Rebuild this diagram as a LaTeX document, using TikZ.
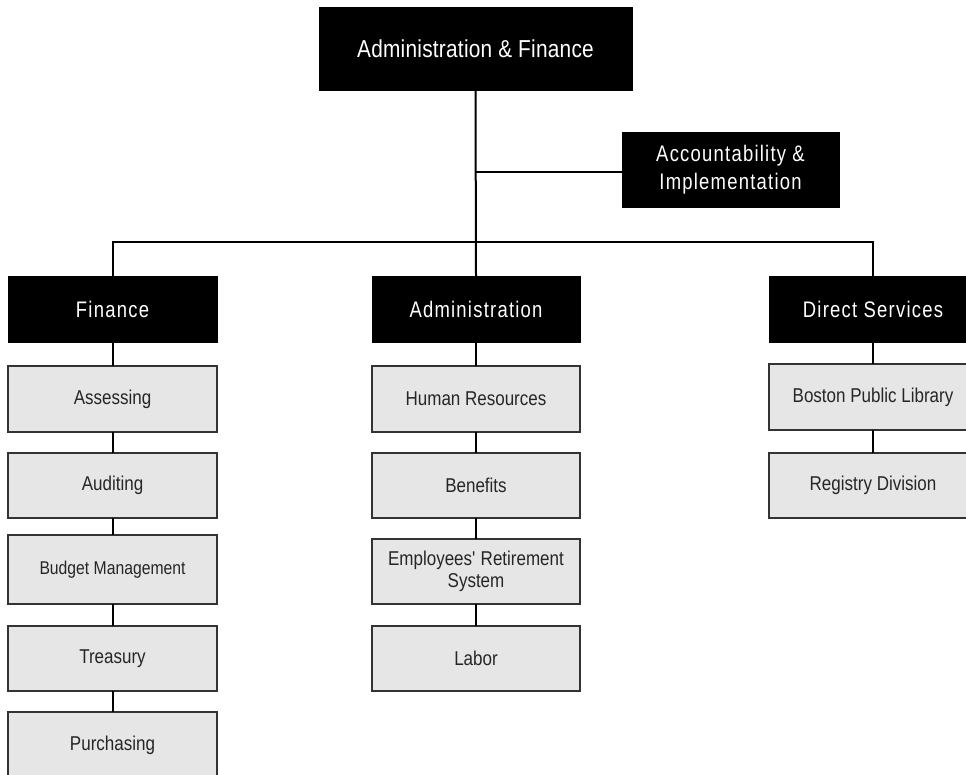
\documentclass[tikz,border=0pt]{standalone}
\usepackage{fontspec}
\setmainfont{Liberation Sans}[FakeStretch=0.85]
\newfontfamily\hdfont{Liberation Sans}[FakeStretch=0.82,LetterSpace=5.5]
\newfontfamily\topfont{Liberation Sans}[FakeStretch=0.85,LetterSpace=1]
\definecolor{subgray}{HTML}{E6E6E6}
\definecolor{edgegray}{HTML}{333333}
\definecolor{txtgray}{HTML}{262626}
\tikzset{
  blk/.style={fill=black, draw=black, line width=0.8pt, text=white, inner sep=0pt, outer sep=0pt,
    align=center, minimum height=66pt, font=\hdfont\fontsize{22.5}{28}\selectfont},
  sub/.style={fill=subgray, draw=edgegray, line width=1.5pt, text=txtgray, inner sep=0pt, outer sep=0pt,
    minimum height=65pt, align=center, font=\fontsize{20}{22.5}\selectfont},
  fincol/.style={sub, minimum width=209pt},
  admcol/.style={sub, minimum width=208pt},
  dscol/.style={sub, minimum width=208pt},
  conn/.style={draw=black, line width=2pt},
}
\begin{document}
\begin{tikzpicture}[x=1pt,y=-1pt]
\useasboundingbox (0,0) rectangle (966,775);
% header boxes
\node[blk, minimum width=313pt, minimum height=83pt, font=\topfont\fontsize{24.5}{28}\selectfont] (top) at (475.5,48.5) {Administration \& Finance};
\node[blk, minimum width=217pt, minimum height=75pt] (acc) at (730.5,169.5) {Accountability \&\\Implementation};
\node[blk, minimum width=209pt] (fin) at (112.5,309) {Finance};
\node[blk, minimum width=208pt] (adm) at (476,309) {Administration};
\node[blk, minimum width=208pt] (ds) at (873,309) {Direct Services};
% finance column
\node[fincol, minimum height=66pt] (ass) at (112.5,399) {Assessing};
\node[fincol] (aud) at (112.5,485.5) {Auditing};
\node[fincol, minimum height=69pt, font=\fontsize{18.5}{21}\selectfont] (bud) at (112.5,569.5) {Budget Management};
\node[fincol] (tre) at (112.5,658.5) {Treasury};
\node[fincol, minimum height=66pt] (pur) at (112.5,745) {Purchasing};
% administration column
\node[admcol, minimum height=66pt] (hr) at (476,399) {Human Resources};
\node[admcol] (ben) at (476,485.5) {Benefits};
\node[admcol] (ers) at (476,571.5) {Employees\textquotesingle{} Retirement\\System};
\node[admcol] (lab) at (476,658.5) {Labor};
% direct services column
\node[dscol, minimum height=66pt] (bpl) at (873,397) {Boston Public Library};
\node[dscol] (reg) at (873,485.5) {Registry Division};
% connectors
\coordinate (bus) at (476,242);
\coordinate (jacc) at (476,172);
\draw[conn] (top.south) -- (adm.north);
\draw[conn] (fin.north) |- (bus) -| (ds.north);
\draw[conn] (jacc) -- (jacc -| acc.west);
\foreach \a/\b in {fin/ass, ass/aud, aud/bud, bud/tre, tre/pur, adm/hr, hr/ben, ben/ers, ers/lab, ds/bpl, bpl/reg}
  \draw[conn] (\a.south) -- (\b.north);
\end{tikzpicture}
\end{document}
